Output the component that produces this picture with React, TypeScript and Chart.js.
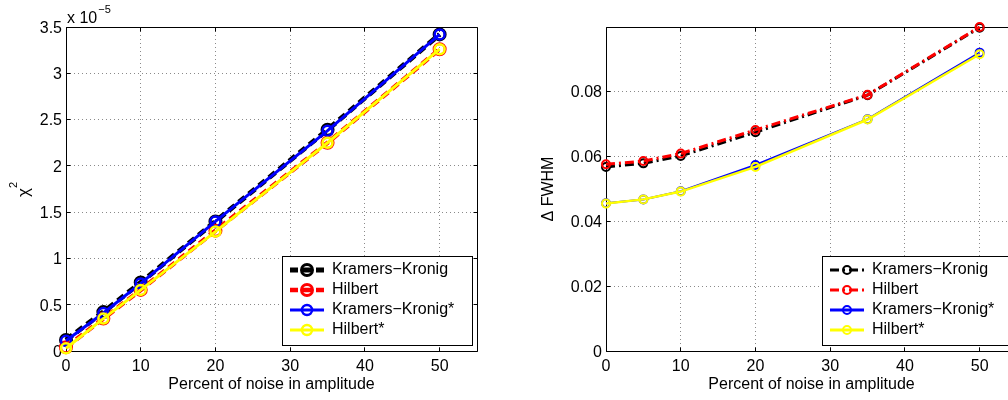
import React, { useEffect, useRef } from 'react';
import { Chart, registerables } from 'chart.js';

Chart.register(...registerables);

// ---------- data ----------
const noiseLevels = [0, 5, 10, 20, 35, 50];
const xTickValues = [0, 10, 20, 30, 40, 50];
const xTickLabels = ['0', '10', '20', '30', '40', '50'];

const seriesNames = ['Kramers\u2212Kronig', 'Hilbert', 'Kramers\u2212Kronig*', 'Hilbert*'];

// left panel: chi^2 in units of 1e-5
const chi2KK = [0.12, 0.42, 0.74, 1.40, 2.39, 3.42];
const chi2Hilbert = [0.04, 0.35, 0.66, 1.30, 2.25, 3.26];
const chi2KKStar = [0.11, 0.41, 0.73, 1.40, 2.38, 3.42];
const chi2HilbertStar = [0.03, 0.35, 0.66, 1.29, 2.25, 3.26];
const chi2TickValues = [0, 0.5, 1, 1.5, 2, 2.5, 3, 3.5];
const chi2TickLabels = ['0', '0.5', '1', '1.5', '2', '2.5', '3', '3.5'];

// right panel: delta FWHM
const fwhmKK = [0.0567, 0.0578, 0.0601, 0.0674, 0.0788, 0.0996];
const fwhmHilbert = [0.0575, 0.0585, 0.0608, 0.0681, 0.0789, 0.0998];
const fwhmKKStar = [0.0455, 0.0467, 0.0492, 0.0573, 0.0714, 0.0919];
const fwhmHilbertStar = [0.0454, 0.0467, 0.0491, 0.0567, 0.0713, 0.0914];
const fwhmTickValues = [0, 0.02, 0.04, 0.06, 0.08];
const fwhmTickLabels = ['0', '0.02', '0.04', '0.06', '0.08'];

const FONT = '"Liberation Sans", Arial, Helvetica, sans-serif';
Chart.defaults.font.family = FONT;
Chart.defaults.font.size = 16;
Chart.defaults.color = '#000';

// ---------- plugins ----------
const align = (v: number) => Math.round(v - 0.5) + 0.5;

const framePlugin = {
  id: 'matFrame',
  beforeDatasetsDraw(chart: any, _a: any, opts: any) {
    const { ctx, chartArea, scales } = chart;
    const L = align(chartArea.left), R = align(chartArea.right);
    const T = align(chartArea.top), B = align(chartArea.bottom);
    ctx.save();
    ctx.strokeStyle = '#000';
    ctx.lineWidth = 1;
    ctx.setLineDash([]);
    ctx.beginPath();
    ctx.moveTo(L, T); ctx.lineTo(R, T); ctx.lineTo(R, B); ctx.lineTo(L, B); ctx.closePath();
    const tl = opts.tickLen || 4;
    scales.x.ticks.forEach((t: any) => {
      const x = align(scales.x.getPixelForValue(t.value));
      ctx.moveTo(x, B); ctx.lineTo(x, B - tl);
      ctx.moveTo(x, T); ctx.lineTo(x, T + tl);
    });
    scales.y.ticks.forEach((t: any) => {
      const y = align(scales.y.getPixelForValue(t.value));
      ctx.moveTo(L, y); ctx.lineTo(L + tl, y);
      ctx.moveTo(R, y); ctx.lineTo(R - tl, y);
    });
    ctx.stroke();
    ctx.restore();
  },
  afterDraw(chart: any, _a: any, opts: any) {
    const { ctx, chartArea } = chart;
    ctx.save();
    ctx.fillStyle = '#000';
    ctx.textAlign = 'left';
    ctx.textBaseline = 'alphabetic';
    if (opts.exponent) {
      ctx.font = `16px ${FONT}`;
      const x = chartArea.left + 1;
      ctx.fillText('x 10', x, 22.5);
      const w = ctx.measureText('x 10').width;
      ctx.font = `11px ${FONT}`;
      ctx.fillText(opts.exponent, x + w + 1, 13);
    }
    if (opts.yTitleBase) {
      // rotated title with a superscript: base glyph + raised exponent
      ctx.translate(opts.yTitleX, opts.yTitleY);
      ctx.rotate(-Math.PI / 2);
      ctx.font = `17px ${FONT}`;
      ctx.fillText(opts.yTitleBase, 0, 0);
      const w = ctx.measureText(opts.yTitleBase).width;
      ctx.font = `11px ${FONT}`;
      ctx.fillText(opts.yTitleSup, w, -11.5);
    }
    ctx.restore();
  },
};

const legendPlugin = {
  id: 'matLegend',
  afterDraw(chart: any, _a: any, opts: any) {
    const { ctx, chartArea } = chart;
    const w = opts.width, h = opts.height;
    const x0 = Math.round(chartArea.right - opts.right - w);
    const y0 = Math.round(chartArea.bottom - opts.bottom - h);
    ctx.save();
    ctx.fillStyle = '#fff';
    ctx.fillRect(x0, y0, w, h);
    ctx.strokeStyle = '#000';
    ctx.lineWidth = 1;
    ctx.setLineDash([]);
    ctx.strokeRect(x0 + 0.5, y0 + 0.5, w, h);
    chart.data.datasets.forEach((ds: any, i: number) => {
      const cy = y0 + opts.firstRow + i * opts.rowGap;
      ctx.strokeStyle = ds.borderColor;
      ctx.lineWidth = Math.max(ds.borderWidth, opts.minLineWidth || 0);
      ctx.setLineDash(ds.borderDash || []);
      ctx.beginPath();
      ctx.moveTo(x0 + opts.lineStart, cy);
      ctx.lineTo(x0 + opts.lineEnd, cy);
      ctx.stroke();
      ctx.setLineDash([]);
      ctx.lineWidth = ds.pointBorderWidth;
      ctx.beginPath();
      ctx.arc(x0 + (opts.lineStart + opts.lineEnd) / 2, cy, ds.pointRadius, 0, Math.PI * 2);
      ctx.stroke();
      ctx.fillStyle = '#000';
      ctx.font = `16px ${FONT}`;
      ctx.textAlign = 'left';
      ctx.textBaseline = 'middle';
      ctx.fillText(ds.label, x0 + opts.textX, cy);
    });
    ctx.restore();
  },
};

// ---------- helpers ----------
function makeDataset(label: string, ys: number[], color: string, width: number, dash: number[], radius: number, pbw: number, order: number) {
  return {
    label,
    data: noiseLevels.map((x, i) => ({ x, y: ys[i] })),
    borderColor: color,
    borderWidth: width,
    borderDash: dash,
    pointRadius: radius,
    pointHoverRadius: radius,
    pointBorderWidth: pbw,
    pointBorderColor: color,
    pointBackgroundColor: 'rgba(0,0,0,0)',
    pointStyle: 'circle',
    tension: 0,
    fill: false,
    clip: false,
    order,
  };
}

const GRID_COLOR = '#8a8a8a';

function makeConfig(p: {
  datasets: any[]; yMax: number; yTicks: number[]; yLabels: string[];
  yTitle?: string; yTitleBase?: string; yTitleSup?: string; yTitleX?: number; yTitleY?: number;
  yWidth: number; yTitlePad: number; padRight: number; exponent?: string; legendMinLine?: number;
}) {
  return {
    type: 'line',
    data: { datasets: p.datasets },
    plugins: [framePlugin, legendPlugin],
    options: {
      responsive: false,
      animation: false,
      events: [],
      layout: { padding: { left: 0, top: 27, right: p.padRight, bottom: 0 } },
      plugins: {
        legend: { display: false },
        tooltip: { enabled: false },
        matFrame: { tickLen: 4, exponent: p.exponent, yTitleBase: p.yTitleBase, yTitleSup: p.yTitleSup, yTitleX: p.yTitleX, yTitleY: p.yTitleY },
        matLegend: { width: 190, height: 89, right: 5, bottom: 6, firstRow: 14, rowGap: 20, lineStart: 8, lineEnd: 42, textX: 50, minLineWidth: p.legendMinLine || 0 },
      },
      scales: {
        x: {
          type: 'linear',
          min: 0,
          max: 55,
          afterBuildTicks: (s: any) => { s.ticks = xTickValues.map((v) => ({ value: v })); },
          ticks: { callback: (_v: any, i: number) => xTickLabels[i], padding: 6, color: '#000', font: { size: 16 }, maxRotation: 0, autoSkip: false },
          grid: { color: GRID_COLOR, lineWidth: 1, drawTicks: false },
          border: { display: false, dash: [1, 3] },
          title: { display: true, text: 'Percent of noise in amplitude', color: '#000', font: { size: 16 }, padding: { top: 0, bottom: 6 } },
          afterFit: (s: any) => { s.height = 49; },
        },
        y: {
          type: 'linear',
          min: 0,
          max: p.yMax,
          afterBuildTicks: (s: any) => { s.ticks = p.yTicks.map((v) => ({ value: v })); },
          ticks: { callback: (_v: any, i: number) => p.yLabels[i], padding: 4, labelOffset: 1.5, color: '#000', font: { size: 16 }, autoSkip: false },
          grid: { color: GRID_COLOR, lineWidth: 1, drawTicks: false },
          border: { display: false, dash: [1, 3] },
          title: { display: !!p.yTitle, text: p.yTitle || '', color: '#000', font: { size: 16 }, padding: { top: p.yTitlePad, bottom: 0 } },
          afterFit: (s: any) => { s.width = p.yWidth; },
        },
      },
    },
  };
}

function ChartCanvas({ make, left, width }: { make: () => any; left: number; width: number }) {
  const ref = useRef<HTMLCanvasElement>(null);
  useEffect(() => {
    const chart = new Chart(ref.current as HTMLCanvasElement, make());
    return () => chart.destroy();
  }, []);
  return (
    <canvas
      ref={ref}
      width={width}
      height={400}
      style={{ position: 'absolute', left, top: 0, width, height: 400, display: 'block' }}
    />
  );
}

const leftConfig = () =>
  makeConfig({
    datasets: [
      makeDataset(seriesNames[0], chi2KK, '#000000', 5, [8, 5], 5.5, 3, 3),
      makeDataset(seriesNames[1], chi2Hilbert, '#ff0000', 4.5, [8, 5], 5.5, 3, 2),
      makeDataset(seriesNames[2], chi2KKStar, '#0000ff', 3, [], 5, 2.5, 1),
      makeDataset(seriesNames[3], chi2HilbertStar, '#ffff00', 3, [], 5, 2.5, 0),
    ],
    yMax: 3.5,
    yTicks: chi2TickValues,
    yLabels: chi2TickLabels,
    yTitleBase: '\u03c7',
    yTitleSup: '2',
    yTitleX: 28.5,
    yTitleY: 197,
    yWidth: 66,
    yTitlePad: 15,
    padRight: 23,
    exponent: '\u22125',
  });

const rightConfig = () =>
  makeConfig({
    datasets: [
      makeDataset(seriesNames[0], fwhmKK, '#000000', 3, [9, 4, 2, 4], 4, 2, 3),
      makeDataset(seriesNames[1], fwhmHilbert, '#ff0000', 3, [9, 4, 2, 4], 4, 2, 2),
      makeDataset(seriesNames[2], fwhmKKStar, '#0000ff', 2, [], 4, 2, 1),
      makeDataset(seriesNames[3], fwhmHilbertStar, '#ffff00', 2.5, [], 4, 2, 0),
    ],
    yMax: 0.0998,
    yTicks: fwhmTickValues,
    yLabels: fwhmTickLabels,
    yTitle: '\u0394 FWHM',
    yWidth: 106,
    yTitlePad: 39,
    padRight: 13,
    legendMinLine: 3,
  });

export default function App() {
  return (
    <div style={{ position: 'fixed', left: 0, top: 0, width: 1008, height: 400, overflow: 'hidden', background: '#fff' }}>
      <ChartCanvas make={leftConfig} left={0} width={500} />
      <ChartCanvas make={rightConfig} left={500} width={530} />
    </div>
  );
}
